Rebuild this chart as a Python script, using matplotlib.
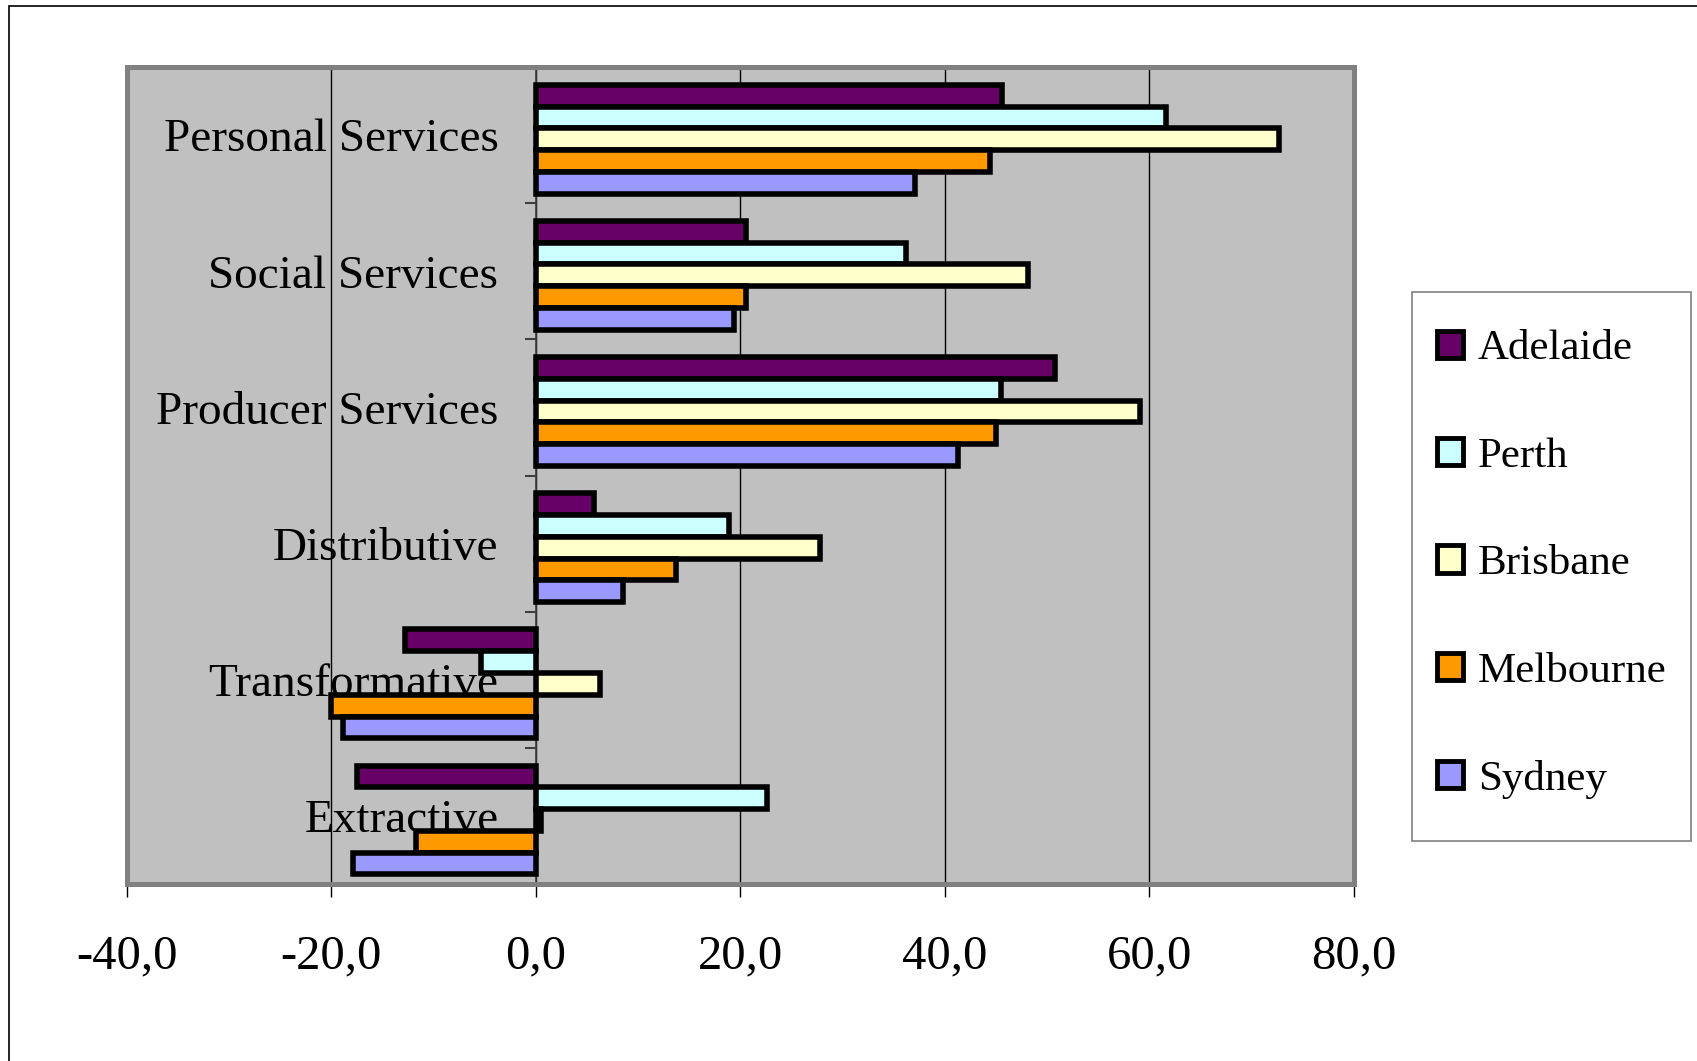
import numpy as np
import matplotlib.pyplot as plt
from matplotlib.patches import Rectangle
from matplotlib.ticker import FuncFormatter, FixedLocator

plt.rcParams['font.family'] = ['Liberation Serif', 'DejaVu Serif']

# sectors, bottom to top
sectors = ["Extractive", "Transformative", "Distributive",
           "Producer Services", "Social Services", "Personal Services"]
cities = ["Adelaide", "Perth", "Brisbane", "Melbourne", "Sydney"]
colors = ["#660066", "#CCFFFF", "#FFFFCC", "#FF9900", "#9999FF"]

adelaide = [-17.5, -12.8, 5.7, 50.8, 20.5, 45.6]
perth = [22.6, -5.4, 18.9, 45.5, 36.2, 61.6]
brisbane = [0.5, 6.3, 27.8, 59.1, 48.1, 72.7]
melbourne = [-11.7, -20.0, 13.7, 45.0, 20.5, 44.4]
sydney = [-17.9, -18.9, 8.5, 41.3, 19.4, 37.1]
series = [adelaide, perth, brisbane, melbourne, sydney]

fig = plt.figure(figsize=(16.97, 10.61), dpi=100)
ax = fig.add_axes([0.0748, 0.1668, 0.723, 0.770])
ax.set_facecolor('#C0C0C0')

y = np.arange(len(sectors))
h = 0.16
for i, (vals, col, name) in enumerate(zip(series, colors, cities)):
    off = (2 - i) * h - 0.03
    ax.barh(y + off, vals, height=h, color=col, edgecolor='black',
            linewidth=4, label=name, zorder=3)

ax.set_xlim(-40, 80)
ax.set_ylim(-0.5, 5.5)
ax.set_xticks([-40, -20, 0, 20, 40, 60, 80])
ax.xaxis.set_major_formatter(FuncFormatter(lambda v, p: f"{v:.1f}".replace('.', ',')))
ax.xaxis.grid(True, color='black', linewidth=1, zorder=1)
ax.set_axisbelow(True)
ax.tick_params(axis='x', direction='out', length=9, width=1, pad=27,
               labelsize=35, color='black')

# category axis sits on the zero line
ax.spines['left'].set_position(('data', 0))
ax.spines['left'].set_color('#404040')
ax.spines['left'].set_linewidth(1.2)
ax.spines['left'].set_zorder(2)
ax.set_yticks(y)
ax.set_yticklabels(sectors)
ax.yaxis.set_minor_locator(FixedLocator(np.arange(-0.5, 6, 1)))
ax.tick_params(axis='y', which='major', length=0, pad=27, labelsize=34)
ax.tick_params(axis='y', which='minor', length=8, width=1.5, color='#404040')

for s in ['top', 'right']:
    ax.spines[s].set_visible(False)
ax.spines['bottom'].set_color('black')
ax.spines['bottom'].set_linewidth(1.5)

# grey plot-area frame
ax.add_patch(Rectangle((0, 0), 1, 1, transform=ax.transAxes, fill=False,
                       edgecolor='#808080', linewidth=3.6, zorder=4,
                       clip_on=False))

# chart-area border
fig.patches.append(Rectangle((9 / 1697, -0.05), 1.2, 1 - 6 / 1061 + 0.05,
                             transform=fig.transFigure, fill=False,
                             edgecolor='black', linewidth=1.2))

# legend box drawn separately so its size is independent of the entries
fig.patches.append(Rectangle((0.832, 0.207), 0.1645, 0.518,
                             transform=fig.transFigure, fill=True,
                             facecolor='white', edgecolor='#808080',
                             linewidth=1.2))
leg = fig.legend(loc='upper left', bbox_to_anchor=(0.8468, 0.689),
                 borderaxespad=0, borderpad=0, fontsize=31, frameon=False,
                 labelspacing=1.6, handlelength=0.6, handleheight=0.6,
                 handletextpad=0.35)
for p in leg.get_patches():
    p.set_linewidth(3.5)

fig.savefig('out.png', dpi=100)
